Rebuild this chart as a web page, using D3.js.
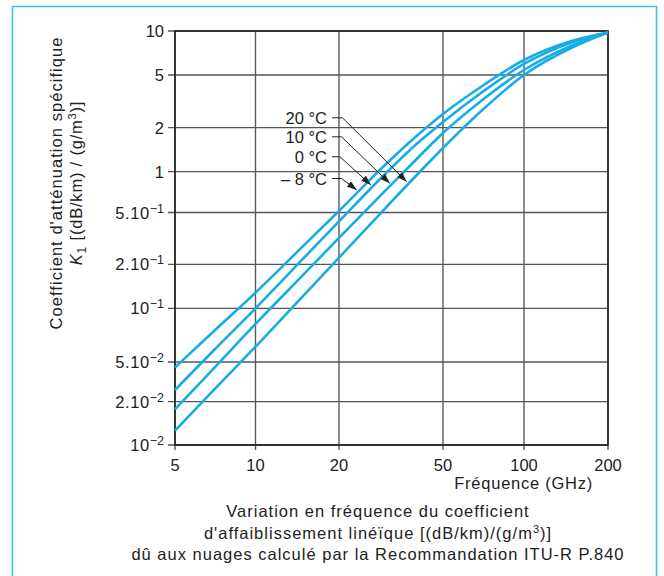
<!DOCTYPE html>
<html><head><meta charset="utf-8">
<script src="https://cdn.jsdelivr.net/npm/d3@7"></script>
<style>
body{margin:0;background:#fff}
text{font-family:"Liberation Sans",Arial,Helvetica,sans-serif;fill:#222}
</style>
</head><body>
<svg id="chart" width="664" height="576"></svg>
<script>
// ---- data ----
const frequencies = [5, 7, 10, 15, 20, 30, 40, 50, 70, 100, 150, 200];
const kMinus8 = [0.0442, 0.0746, 0.128, 0.282, 0.513, 1.111, 1.783, 2.54, 4.13, 6.33, 8.61, 9.76];
const kZero   = [0.0262, 0.0584, 0.100, 0.226, 0.427, 0.962, 1.572, 2.21, 3.72, 5.95, 8.41, 9.76];
const kTen    = [0.0177, 0.0435, 0.0817, 0.1725, 0.319, 0.721, 1.241, 1.84, 3.24, 5.41, 8.02, 9.76];
const kTwenty = [0.01257, 0.0264, 0.0609, 0.1241, 0.225, 0.535, 0.962, 1.453, 2.72, 5.00, 7.77, 9.76];
const seriesNames = ["– 8 °C", "0 °C", "10 °C", "20 °C"];
// arrow tips of the temperature labels (frequency GHz, K1)
const arrowFreq = [23.4, 26.5, 31.3, 36.3];
const arrowK    = [0.733, 0.798, 0.821, 0.844];
const xTicks = [5, 10, 20, 50, 100, 200];
const xTickLabels = ["5", "10", "20", "50", "100", "200"];
const yTicks = [0.01, 0.02, 0.05, 0.1, 0.2, 0.5, 1, 2, 5, 10];
const yTickBase = ["10", "2.10", "5.10", "10", "2.10", "5.10", "1", "2", "5", "10"];
const yTickExp  = ["−2", "−2", "−2", "−1", "−1", "−1", "", "", "", ""];

// ---- layout ----
const svg = d3.select("#chart");
const L = 175, R = 608, T = 31, B = 445;
const x = d3.scaleLog().domain(xTicks).range([175, 255.5, 339, 443, 524, 608]);
const y = d3.scaleLog().domain(yTicks).range([445, 401.7, 362, 308.3, 264.3, 212.5, 171.7, 127.7, 75, 31]);

const ink = "#222";
const blue = "#16ade6";
const FS = 16.5;

// outer frame
svg.append("path").attr("d", "M12.5,580 V6.5 H656.5 V580")
  .attr("fill", "none").attr("stroke", "#3fbfee").attr("stroke-width", 1.6);

// grid
const g = svg.append("g");
g.selectAll(".vg").data(xTicks).join("line")
  .attr("x1", d => x(d)).attr("x2", d => x(d)).attr("y1", T).attr("y2", B + 5)
  .attr("stroke", "#5a5a5a").attr("stroke-width", 1.4);
g.selectAll(".hg").data(yTicks).join("line")
  .attr("x1", L - 7).attr("x2", R).attr("y1", d => y(d)).attr("y2", d => y(d))
  .attr("stroke", "#555").attr("stroke-width", 1.3);
g.append("rect").attr("x", L).attr("y", T).attr("width", R - L).attr("height", B - T)
  .attr("fill", "none").attr("stroke", ink).attr("stroke-width", 1.6);

// y tick labels
const yl = svg.append("g");
yTicks.forEach((v, i) => {
  const t = yl.append("text").attr("x", 164).attr("y", y(v) + 6)
    .attr("text-anchor", "end").attr("font-size", FS);
  t.append("tspan").attr("letter-spacing", yTickExp[i] ? 0.6 : 0).text(yTickBase[i]);
  if (yTickExp[i]) t.append("tspan").attr("dy", -6).attr("font-size", 12.5).text(yTickExp[i]);
});
// x tick labels
svg.append("g").selectAll("text").data(xTicks).join("text")
  .attr("x", d => x(d)).attr("y", 471).attr("text-anchor", "middle").attr("font-size", FS)
  .text((d, i) => xTickLabels[i]);

// curves
const allSeries = [kMinus8, kZero, kTen, kTwenty];
const line = d3.line().x(d => x(d[0])).y(d => y(d[1])).curve(d3.curveMonotoneX);
svg.append("g").selectAll("path").data(allSeries).join("path")
  .attr("d", s => line(frequencies.map((f, i) => [f, s[i]])))
  .attr("fill", "none").attr("stroke", blue).attr("stroke-width", 2.6);

// labels with arrows
const defs = svg.append("defs");
defs.append("marker").attr("id", "ah").attr("viewBox", "0 0 10 7")
  .attr("refX", 10).attr("refY", 3.5).attr("markerWidth", 10).attr("markerHeight", 7)
  .attr("markerUnits", "userSpaceOnUse").attr("orient", "auto")
  .append("path").attr("d", "M0,0 L10,3.5 L0,7 z").attr("fill", ink);
const labelBase = [185, 163.3, 143.3, 124.3];
const leadEnd = [341.5, 340, 341.5, 342.5];
const ann = svg.append("g");
seriesNames.forEach((name, i) => {
  ann.append("text").attr("x", 327).attr("y", labelBase[i]).attr("text-anchor", "end")
    .attr("font-size", FS).text(name);
  const ly = labelBase[i] - 6.5;
  ann.append("path")
    .attr("d", `M332,${ly} H${leadEnd[i]} L${x(arrowFreq[i])},${y(arrowK[i])}`)
    .attr("fill", "none").attr("stroke", ink).attr("stroke-width", 1)
    .attr("marker-end", "url(#ah)");
});

// axis titles
svg.append("text").attr("transform", "translate(62,183) rotate(-90)")
  .attr("text-anchor", "middle").attr("font-size", FS).attr("letter-spacing", 1.05)
  .text("Coefficient d'atténuation spécifique");
const yt2 = svg.append("text").attr("transform", "translate(82,183) rotate(-90)")
  .attr("text-anchor", "middle").attr("font-size", FS).attr("letter-spacing", 0.8);
yt2.append("tspan").attr("font-style", "italic").text("K");
yt2.append("tspan").attr("dy", 4).attr("font-size", 12).text("1");
yt2.append("tspan").attr("dy", -4).text(" [(dB/km) / (g/m");
yt2.append("tspan").attr("dy", -6).attr("font-size", 11).text("3");
yt2.append("tspan").attr("dy", 6).text(")]");

svg.append("text").attr("x", 593).attr("y", 489).attr("text-anchor", "end")
  .attr("font-size", FS).attr("letter-spacing", 0.75).text("Fréquence (GHz)");

// caption
const cap = svg.append("g");
cap.append("text").attr("x", 378).attr("y", 517).attr("text-anchor", "middle")
  .attr("font-size", FS).attr("letter-spacing", 1.0)
  .text("Variation en fréquence du coefficient");
const c2 = cap.append("text").attr("x", 378).attr("y", 538.5).attr("text-anchor", "middle")
  .attr("font-size", FS).attr("letter-spacing", 1.0);
c2.append("tspan").text("d'affaiblissement linéïque [(dB/km)/(g/m");
c2.append("tspan").attr("dy", -6).attr("font-size", 11).text("3");
c2.append("tspan").attr("dy", 6).text(")]");
cap.append("text").attr("x", 378).attr("y", 560).attr("text-anchor", "middle")
  .attr("font-size", FS).attr("letter-spacing", 1.0)
  .text("dû aux nuages calculé par la Recommandation ITU-R P.840");
</script>
</body></html>
